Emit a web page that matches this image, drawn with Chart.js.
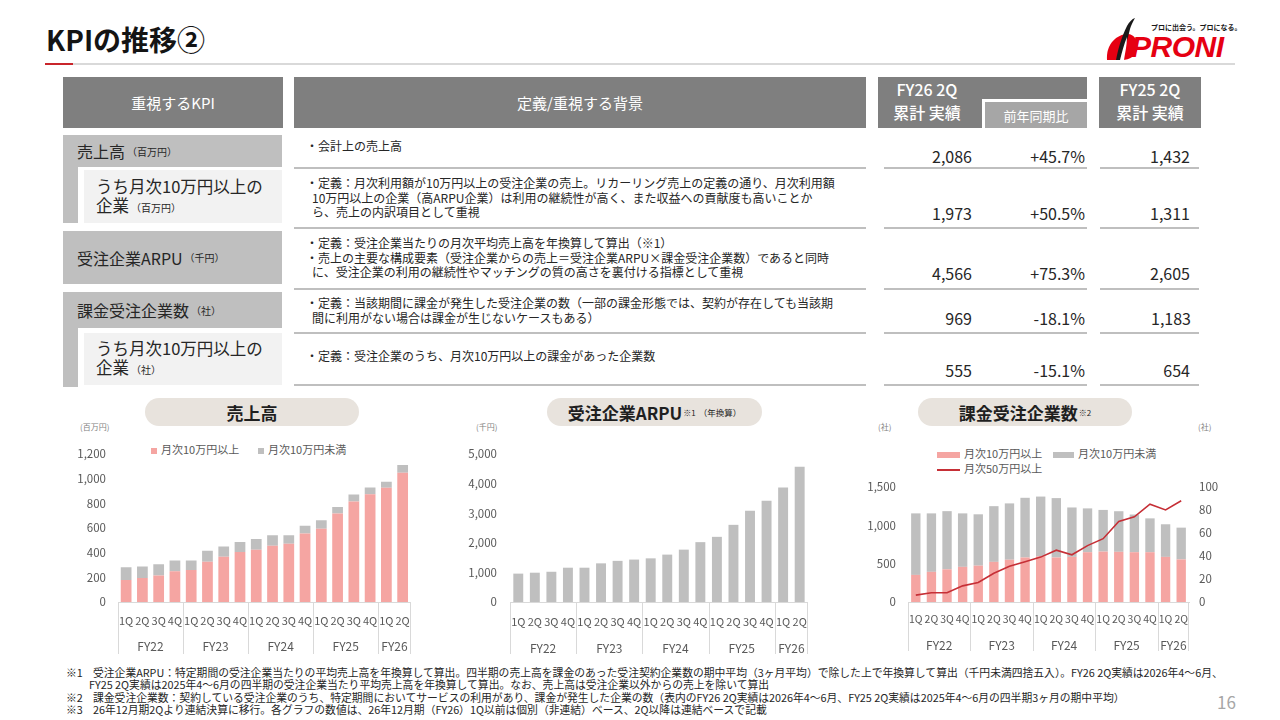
<!DOCTYPE html>
<html lang="ja">
<head>
<meta charset="utf-8">
<title>KPIの推移②</title>
<script src="https://cdn.jsdelivr.net/npm/chart.js@4.4.0/dist/chart.umd.min.js"></script>
<style>
  html, body { margin: 0; padding: 0; background: #fff; }
  body {
    width: 1280px; height: 720px; position: relative; overflow: hidden;
    font-family: "Noto Sans CJK JP", "Noto Sans", sans-serif; color: #262626;
  }
  .abs { position: absolute; }
  .title { left: 46px; top: 20px; font-size: 28px; font-weight: 700; line-height: 38px; color: #141414; }
  .rule-red { left: 45px; top: 63px; width: 28px; height: 2px; background: #c9252b; }
  .rule-gray { left: 73px; top: 63px; width: 1162px; height: 2px; background: #d9d9d9; }

  .hd { background: #7f7f7f; color: #fff; display: flex; align-items: center; justify-content: center; font-size: 15px; }
  .hd2 { color: #fff; font-size: 16px; line-height: 23px; text-align: center; font-weight: 500; }
  .sub { background: #a6a6a6; color: #fff; font-size: 13px; display: flex; align-items: center; justify-content: center;
         border-left: 3px solid #fff; border-top: 3px solid #fff; }

  .kpi { background: #bfbfbf; display: flex; align-items: center; font-size: 16px; padding-left: 14px; box-sizing: border-box; }
  .kpi small, .kpi2 small { font-size: 10px; margin-left: 2px; }
  .strip { background: #bfbfbf; }
  .kpi2 { background: #f2f2f2; font-size: 16.5px; line-height: 19px; padding: 0 0 0 12px; box-sizing: border-box;
          display: flex; flex-direction: column; justify-content: center; }

  .def { left: 306px; font-size: 12px; line-height: 14.5px; white-space: nowrap; color: #262626; }
  .def p { margin: 0; padding-left: 6px; text-indent: -6px; }
  .line { height: 2px; background: #bfbfbf; }
  .val { font-size: 16px; text-align: right; white-space: nowrap; line-height: 20px; }

  .pill { top: 398px; height: 28px; border-radius: 14px; background: #e8e3dd; font-size: 17px; font-weight: 700;
          display: flex; align-items: center; justify-content: center; color: #1f1f1f; white-space: nowrap; }
  .pill sup { font-size: 8px; font-weight: 400; margin-left: 1px; vertical-align: 8px; }
  .pill .note { font-size: 8.5px; font-weight: 400; margin-left: 3px; vertical-align: -2px; }
  .unit { top: 421px; font-size: 8px; color: #7f7f7f; }
  .lg { font-size: 11px; color: #595959; white-space: nowrap; line-height: 14px; }
  .sw { display: inline-block; vertical-align: middle; margin-right: 4px; }

  .foot { left: 66px; top: 666px; font-size: 10.8px; line-height: 12.3px; white-space: nowrap; color: #262626; }
  .foot div span { display: inline-block; width: 27px; }
  .foot .cont { padding-left: 23px; }
  .page { left: 1217px; top: 689px; font-size: 17px; color: #a6a6a6; }
  canvas { position: absolute; }
</style>
</head>
<body>

<div class="abs title">KPIの推移②</div>
<div class="abs rule-red"></div>
<div class="abs rule-gray"></div>

<!-- logo -->
<svg class="abs" style="left:1104px;top:16px" width="36" height="46" viewBox="0 0 36 46">
  <path d="M3 44 C2 30 10 20 22 18 C30 17 34 24 33 32 C32 40 26 44 18 44 Z" fill="#e60012"/>
  <path d="M12 44 C14 34 17 22 23 10 C25 6 28 3 31 2 C29 6 27 9 26 13 C24 22 20 34 17 44 Z" fill="#1a1a1a"/>
  <path d="M16 44 C18 36 20 28 23 21 C23 29 21 37 20 44 Z" fill="#fff"/>
</svg>
<div class="abs" style="left:1131px;top:32px;font-family:'Liberation Sans',sans-serif;font-size:30px;font-weight:700;font-style:italic;line-height:30px;color:#e60012;letter-spacing:-0.5px">PRONI</div>
<div class="abs" style="left:1151px;top:23px;font-size:7px;font-weight:700;line-height:9px;color:#1a1a1a;white-space:nowrap">プロに出会う。プロになる。</div>

<!-- table header -->
<div class="abs hd" style="left:63px;top:77px;width:220px;height:51px">重視するKPI</div>
<div class="abs hd" style="left:294px;top:77px;width:572px;height:51px">定義/重視する背景</div>
<div class="abs" style="left:878px;top:77px;width:209px;height:51px;background:#7f7f7f"></div>
<div class="abs hd2" style="left:878px;top:78px;width:98px">FY26 2Q<br>累計 実績</div>
<div class="abs sub" style="left:982px;top:99px;width:102px;height:26px">前年同期比</div>
<div class="abs" style="left:1099px;top:77px;width:102px;height:51px;background:#7f7f7f"></div>
<div class="abs hd2" style="left:1099px;top:78px;width:102px">FY25 2Q<br>累計 実績</div>

<!-- KPI column -->
<div class="abs kpi" style="left:63px;top:135px;width:219px;height:32px">売上高<small>（百万円）</small></div>
<div class="abs strip" style="left:63px;top:167px;width:15px;height:56px"></div>
<div class="abs kpi2" style="left:84px;top:170px;width:198px;height:53px"><div>うち月次10万円以上の</div><div>企業<small>（百万円）</small></div></div>
<div class="abs kpi" style="left:63px;top:231px;width:219px;height:53px">受注企業ARPU<small>（千円）</small></div>
<div class="abs kpi" style="left:63px;top:292px;width:219px;height:36px">課金受注企業数<small>（社）</small></div>
<div class="abs strip" style="left:63px;top:328px;width:15px;height:59px"></div>
<div class="abs kpi2" style="left:84px;top:333px;width:198px;height:52px"><div>うち月次10万円以上の</div><div>企業<small>（社）</small></div></div>

<!-- definitions -->
<div class="abs def" style="top:139px"><p>・会計上の売上高</p></div>
<div class="abs def" style="top:176px"><p>・定義：月次利用額が10万円以上の受注企業の売上。リカーリング売上の定義の通り、月次利用額<br>10万円以上の企業（高ARPU企業）は利用の継続性が高く、また収益への貢献度も高いことか<br>ら、売上の内訳項目として重視</p></div>
<div class="abs def" style="top:236px"><p>・定義：受注企業当たりの月次平均売上高を年換算して算出（※1）</p><p>・売上の主要な構成要素（受注企業からの売上＝受注企業ARPU×課金受注企業数）であると同時<br>に、受注企業の利用の継続性やマッチングの質の高さを裏付ける指標として重視</p></div>
<div class="abs def" style="top:296px"><p>・定義：当該期間に課金が発生した受注企業の数（一部の課金形態では、契約が存在しても当該期<br>間に利用がない場合は課金が生じないケースもある）</p></div>
<div class="abs def" style="top:349px"><p>・定義：受注企業のうち、月次10万円以上の課金があった企業数</p></div>

<!-- row lines -->
<div class="abs line" style="left:294px;top:167px;width:572px"></div>
<div class="abs line" style="left:884px;top:167px;width:203px"></div>
<div class="abs line" style="left:1100px;top:167px;width:99px"></div>
<div class="abs line" style="left:294px;top:227px;width:572px"></div>
<div class="abs line" style="left:884px;top:227px;width:203px"></div>
<div class="abs line" style="left:1100px;top:227px;width:99px"></div>
<div class="abs line" style="left:294px;top:288px;width:572px"></div>
<div class="abs line" style="left:884px;top:288px;width:203px"></div>
<div class="abs line" style="left:1100px;top:288px;width:99px"></div>
<div class="abs line" style="left:294px;top:332px;width:572px"></div>
<div class="abs line" style="left:884px;top:332px;width:203px"></div>
<div class="abs line" style="left:1100px;top:332px;width:99px"></div>
<div class="abs line" style="left:294px;top:384px;width:572px"></div>
<div class="abs line" style="left:884px;top:384px;width:203px"></div>
<div class="abs line" style="left:1100px;top:384px;width:99px"></div>

<!-- values -->
<div class="abs val" style="left:880px;width:92px;top:146px">2,086</div>
<div class="abs val" style="left:990px;width:95px;top:146px">+45.7%</div>
<div class="abs val" style="left:1100px;width:90px;top:146px">1,432</div>
<div class="abs val" style="left:880px;width:92px;top:203px">1,973</div>
<div class="abs val" style="left:990px;width:95px;top:203px">+50.5%</div>
<div class="abs val" style="left:1100px;width:90px;top:203px">1,311</div>
<div class="abs val" style="left:880px;width:92px;top:263px">4,566</div>
<div class="abs val" style="left:990px;width:95px;top:263px">+75.3%</div>
<div class="abs val" style="left:1100px;width:90px;top:263px">2,605</div>
<div class="abs val" style="left:880px;width:92px;top:308px">969</div>
<div class="abs val" style="left:990px;width:95px;top:308px">-18.1%</div>
<div class="abs val" style="left:1100px;width:91px;top:308px">1,183</div>
<div class="abs val" style="left:880px;width:92px;top:360px">555</div>
<div class="abs val" style="left:990px;width:95px;top:360px">-15.1%</div>
<div class="abs val" style="left:1100px;width:90px;top:360px">654</div>

<!-- chart titles -->
<div class="abs pill" style="left:145px;width:214px">売上高</div>
<div class="abs pill" style="left:547px;width:215px">受注企業ARPU<sup>※1</sup><span class="note">（年換算）</span></div>
<div class="abs pill" style="left:918px;width:214px">課金受注企業数<sup>※2</sup></div>

<div class="abs unit" style="left:80px">(百万円)</div>
<div class="abs unit" style="left:476px">(千円)</div>
<div class="abs unit" style="left:878px">(社)</div>
<div class="abs unit" style="left:1198px">(社)</div>

<!-- legends -->
<div class="abs lg" style="left:151px;top:442px"><span class="sw" style="width:6px;height:6px;background:#f5a5a2"></span>月次10万円以上</div>
<div class="abs lg" style="left:258px;top:442px"><span class="sw" style="width:6px;height:6px;background:#bfbfbf"></span>月次10万円未満</div>
<div class="abs lg" style="left:937px;top:446px"><span class="sw" style="width:23px;height:6px;background:#f5a5a2"></span>月次10万円以上</div>
<div class="abs lg" style="left:1053px;top:446px"><span class="sw" style="width:21px;height:6px;background:#bfbfbf"></span>月次10万円未満</div>
<div class="abs lg" style="left:937px;top:461px"><span class="sw" style="width:23px;height:2px;background:#c62f36"></span>月次50万円以上</div>

<canvas id="salesChart" width="362" height="222" style="left:60px;top:435px"></canvas>
<canvas id="arpuChart" width="370" height="223" style="left:450px;top:434px"></canvas>
<canvas id="payingChart" width="370" height="189" style="left:860px;top:468px"></canvas>

<div class="abs foot">
  <div><span>※1</span>受注企業ARPU：特定期間の受注企業当たりの平均売上高を年換算して算出。四半期の売上高を課金のあった受注契約企業数の期中平均（3ヶ月平均）で除した上で年換算して算出（千円未満四捨五入）。FY26 2Q実績は2026年4～6月、</div>
  <div class="cont">FY25 2Q実績は2025年4～6月の四半期の受注企業当たり平均売上高を年換算して算出。なお、売上高は受注企業以外からの売上を除いて算出</div>
  <div><span>※2</span>課金受注企業数：契約している受注企業のうち、特定期間においてサービスの利用があり、課金が発生した企業の数（表内のFY26 2Q実績は2026年4～6月、FY25 2Q実績は2025年4～6月の四半期3ヶ月の期中平均）</div>
  <div><span>※3</span>26年12月期2Qより連結決算に移行。各グラフの数値は、26年12月期（FY26）1Q以前は個別（非連結）ベース、2Q以降は連結ベースで記載</div>
</div>
<div class="abs page">16</div>

<script>
// quarters FY22 1Q .. FY26 2Q
const quarters = ['1Q','2Q','3Q','4Q','1Q','2Q','3Q','4Q','1Q','2Q','3Q','4Q','1Q','2Q','3Q','4Q','1Q','2Q'];
const fyNames = ['FY22','FY23','FY24','FY25','FY26'];
const fyCounts = [4, 4, 4, 4, 2];

// 売上高 (百万円)
const salesHigh = [179, 195, 215, 249, 259, 326, 367, 405, 423, 456, 472, 556, 593, 718, 815, 874, 925, 1048];
const salesLow = [103, 92, 90, 87, 77, 89, 82, 82, 87, 85, 69, 62, 70, 51, 57, 54, 50, 63];

// 受注企業ARPU (千円)
const arpu = [958, 989, 1021, 1158, 1158, 1305, 1389, 1432, 1474, 1600, 1768, 2021, 2200, 2605, 3084, 3421, 3863, 4566];

// 課金受注企業数 (社)
const payingHigh = [353, 393, 426, 458, 474, 523, 551, 580, 596, 580, 588, 649, 657, 654, 649, 649, 588, 555];
const payingLow = [802, 762, 758, 697, 669, 726, 734, 778, 778, 774, 644, 571, 543, 529, 491, 441, 425, 414];
const payingOver50 = [6, 8, 8, 14, 17, 25, 31, 35, 39, 45, 41, 49, 55, 70, 74, 85, 80, 88];

const PINK = '#f5a5a2';
const GRAY = '#bfbfbf';
const RED = '#c62f36';
const TICK = '#595959';
const FONT = '"Noto Sans CJK JP", "Noto Sans", sans-serif';

// draws the FY group row and the separators under the quarter labels
const fyAxis = {
  id: 'fyAxis',
  afterDraw(chart, args, opts) {
    const x = chart.scales.x;
    const area = chart.chartArea;
    const ctx = chart.ctx;
    const total = quarters.length;
    const edge = i => {
      if (i <= 0) return area.left;
      if (i >= total) return area.right;
      return (x.getPixelForValue(i - 1) + x.getPixelForValue(i)) / 2;
    };
    ctx.save();
    ctx.strokeStyle = '#d9d9d9';
    ctx.lineWidth = 1;
    ctx.fillStyle = TICK;
    ctx.font = '12px ' + FONT;
    ctx.textAlign = 'center';
    ctx.textBaseline = 'middle';
    let start = 0;
    fyNames.forEach((name, g) => {
      const end = start + fyCounts[g];
      const x0 = edge(start), x1 = edge(end);
      ctx.beginPath();
      ctx.moveTo(Math.round(x0) + 0.5, area.bottom);
      ctx.lineTo(Math.round(x0) + 0.5, area.bottom + opts.lineLen);
      ctx.stroke();
      ctx.fillText(name, (x0 + x1) / 2, area.bottom + opts.labelY);
      start = end;
    });
    const xr = Math.round(edge(total)) - 0.5;
    ctx.beginPath();
    ctx.moveTo(xr, area.bottom);
    ctx.lineTo(xr, area.bottom + opts.lineLen);
    ctx.stroke();
    ctx.restore();
  }
};

function xScale(pad, size) {
  return {
    stacked: true,
    grid: { display: false, drawTicks: false },
    border: { display: true, color: '#d9d9d9', width: 1 },
    ticks: { color: TICK, font: { family: FONT, size: size }, padding: pad, autoSkip: false, maxRotation: 0 },
    afterFit: s => { s.height = 55; }
  };
}

function yScale(max, step, width, pad, pos) {
  return {
    position: pos || 'left',
    min: 0, max: max,
    grid: { display: false, drawTicks: false },
    border: { display: false },
    ticks: { stepSize: step, color: TICK, font: { family: FONT, size: 11.5 }, padding: pad },
    afterFit: s => { s.width = width; }
  };
}

const common = {
  responsive: false,
  animation: false,
  events: [],
  plugins: { legend: { display: false }, tooltip: { enabled: false } }
};

new Chart(document.getElementById('salesChart'), {
  type: 'bar',
  data: {
    labels: quarters,
    datasets: [
      { label: '月次10万円以上', data: salesHigh, backgroundColor: PINK, barPercentage: 0.66, categoryPercentage: 1 },
      { label: '月次10万円未満', data: salesLow, backgroundColor: GRAY, barPercentage: 0.66, categoryPercentage: 1 }
    ]
  },
  options: {
    ...common,
    layout: { padding: { top: 10, right: 8, left: 0, bottom: 0 } },
    plugins: { ...common.plugins, fyAxis: { labelY: 44, lineLen: 52 } },
    scales: {
      x: xScale(12, 11),
      y: { ...yScale(1200, 200, 58, 12), stacked: true }
    }
  },
  plugins: [fyAxis]
});

new Chart(document.getElementById('arpuChart'), {
  type: 'bar',
  data: {
    labels: quarters,
    datasets: [
      { label: '受注企業ARPU', data: arpu, backgroundColor: GRAY, barPercentage: 0.6, categoryPercentage: 1 }
    ]
  },
  options: {
    ...common,
    layout: { padding: { top: 10, right: 7, left: 0, bottom: 0 } },
    plugins: { ...common.plugins, fyAxis: { labelY: 46, lineLen: 52 } },
    scales: {
      x: xScale(13, 11),
      y: yScale(5000, 1000, 60, 13)
    }
  },
  plugins: [fyAxis]
});

new Chart(document.getElementById('payingChart'), {
  type: 'bar',
  data: {
    labels: quarters,
    datasets: [
      { type: 'line', label: '月次50万円以上', data: payingOver50, yAxisID: 'y1', borderColor: RED, borderWidth: 1.6,
        pointRadius: 0, tension: 0, order: 0 },
      { label: '月次10万円以上', data: payingHigh, backgroundColor: PINK, barPercentage: 0.6, categoryPercentage: 1, order: 1 },
      { label: '月次10万円未満', data: payingLow, backgroundColor: GRAY, barPercentage: 0.6, categoryPercentage: 1, order: 1 }
    ]
  },
  options: {
    ...common,
    layout: { padding: { top: 10, right: 0, left: 0, bottom: 0 } },
    plugins: { ...common.plugins, fyAxis: { labelY: 43, lineLen: 49 } },
    scales: {
      x: xScale(11, 10.5),
      y: { ...yScale(1500, 500, 48, 12), stacked: true },
      y1: yScale(100, 20, 41, 10, 'right')
    }
  },
  plugins: [fyAxis]
});
</script>
</body>
</html>
